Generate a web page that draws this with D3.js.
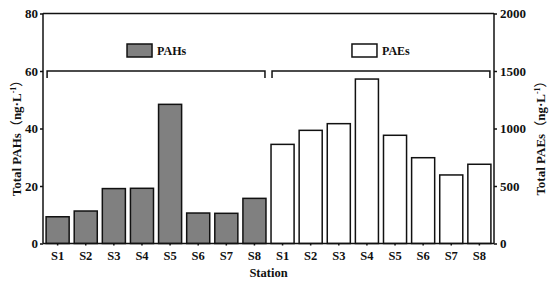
<!DOCTYPE html>
<html>
<head>
<meta charset="utf-8">
<script src="https://cdn.jsdelivr.net/npm/d3@7"></script>
<style>
  body { margin: 0; background: #fff; }
  svg text { font-family: "Liberation Serif", "Times New Roman", serif; font-weight: 700; fill: #111; }
</style>
</head>
<body>
<div id="chart"></div>
<script>
// data
const stations = ['S1', 'S2', 'S3', 'S4', 'S5', 'S6', 'S7', 'S8'];
const pahs = [9.3, 11.3, 19.1, 19.2, 48.4, 10.6, 10.5, 15.7];
const paes = [862, 984, 1042, 1430, 941, 746, 596, 689];
const leftTicks = [0, 20, 40, 60, 80];
const rightTicks = [0, 500, 1000, 1500, 2000];

const width = 550;
const height = 287;
const margin = { top: 13.5, right: 56, bottom: 43.5, left: 43 };
const graphWidth = width - margin.left - margin.right;
const graphHeight = height - margin.top - margin.bottom;

const svg = d3.select('#chart')
    .append('svg')
    .attr('width', width)
    .attr('height', height);

const chart = svg.append('g')
    .attr('transform', `translate(${margin.left}, ${margin.top})`);

// one band per bar, PAHs first then PAEs
const rows = stations.map((s, i) => ({ key: 'PAHs-' + s, label: s, group: 'PAHs', v: pahs[i] }))
    .concat(stations.map((s, i) => ({ key: 'PAEs-' + s, label: s, group: 'PAEs', v: paes[i] })));

const x = d3.scaleBand()
    .domain(rows.map(d => d.key))
    .range([0, graphWidth])
    .paddingInner(0.18)
    .paddingOuter(0.11);

const yL = d3.scaleLinear().domain([0, 80]).range([graphHeight, 0]);
const yR = d3.scaleLinear().domain([0, 2000]).range([graphHeight, 0]);

// bars
chart.selectAll('rect.bar')
    .data(rows)
    .enter()
    .append('rect')
    .attr('class', 'bar')
    .attr('x', d => x(d.key))
    .attr('width', x.bandwidth())
    .attr('y', d => d.group === 'PAHs' ? yL(d.v) : yR(d.v))
    .attr('height', d => graphHeight - (d.group === 'PAHs' ? yL(d.v) : yR(d.v)))
    .attr('fill', d => d.group === 'PAHs' ? '#808080' : '#fff')
    .attr('stroke', '#111')
    .attr('stroke-width', 1.5);

// top frame line
chart.append('line')
    .attr('x1', 0).attr('x2', graphWidth)
    .attr('y1', yL(80)).attr('y2', yL(80))
    .attr('stroke', '#111').attr('stroke-width', 1.5);

// axes
const xAxis = d3.axisBottom(x)
    .tickSize(2)
    .tickPadding(6)
    .tickFormat(k => k.split('-')[1]);
const yAxisL = d3.axisLeft(yL).tickValues(leftTicks).tickSize(3).tickPadding(2);
const yAxisR = d3.axisRight(yR).tickValues(rightTicks).tickSize(3).tickPadding(3)
    .tickFormat(d3.format('d'));

const xg = chart.append('g').attr('transform', `translate(0, ${graphHeight})`).call(xAxis);
const lg = chart.append('g').call(yAxisL);
const rg = chart.append('g').attr('transform', `translate(${graphWidth}, 0)`).call(yAxisR);

[xg, lg, rg].forEach(g => {
    g.attr('font-family', null).attr('font-size', null);
    g.select('.domain').attr('stroke', '#111').attr('stroke-width', 1.5);
    g.selectAll('.tick line').attr('stroke', '#111').attr('stroke-width', 1.5);
    g.selectAll('text').attr('fill', '#111').attr('font-weight', 700);
});
xg.selectAll('text').attr('font-size', 12.5);
lg.selectAll('text').attr('font-size', 13);
rg.selectAll('text').attr('font-size', 13);
// plain domain lines without end ticks
xg.select('.domain').attr('d', `M0,0H${graphWidth}`);
lg.select('.domain').attr('d', `M0,0V${graphHeight}`);
rg.select('.domain').attr('d', `M0,0V${graphHeight}`);

// brackets and legends
['PAHs', 'PAEs'].forEach(grp => {
    const keys = rows.filter(d => d.group === grp).map(d => d.key);
    const x0 = x(keys[0]) + 1;
    const x1 = x(keys[keys.length - 1]) + x.bandwidth() - 1;
    const by = yL(60);
    chart.append('path')
        .attr('d', `M${x0},${by + 7}V${by}H${x1}V${by + 7}`)
        .attr('fill', 'none')
        .attr('stroke', '#111')
        .attr('stroke-width', 1.5);

    const cx = (x0 + x1) / 2;
    const lgd = chart.append('g')
        .attr('transform', `translate(${cx - 29}, ${by - 27})`);
    lgd.append('rect')
        .attr('width', 25).attr('height', 13)
        .attr('fill', grp === 'PAHs' ? '#808080' : '#fff')
        .attr('stroke', '#111').attr('stroke-width', 1.5);
    lgd.append('text')
        .attr('x', 30).attr('y', 11)
        .attr('font-size', 12)
        .text(grp);
});

// axis titles
svg.append('text')
    .attr('x', margin.left + graphWidth / 2)
    .attr('y', 277)
    .attr('text-anchor', 'middle')
    .attr('font-size', 12.5)
    .text('Station');

const yTitle = (txt, xPos) => {
    const t = svg.append('text')
        .attr('transform', `translate(${xPos}, 135) rotate(-90)`)
        .attr('text-anchor', 'middle')
        .attr('font-size', 13);
    t.append('tspan').text(`Total ${txt}`);
    t.append('tspan').style('font-family', '"Noto Sans CJK SC"').style('font-weight', 400).text('（');
    t.append('tspan').text('ng·L');
    t.append('tspan').attr('font-size', 8).attr('dy', -5).text('-1');
    t.append('tspan').attr('dy', 5).style('font-family', '"Noto Sans CJK SC"').style('font-weight', 400).text('）');
};
yTitle('PAHs', 21);
yTitle('PAEs', 545);
</script>
</body>
</html>
